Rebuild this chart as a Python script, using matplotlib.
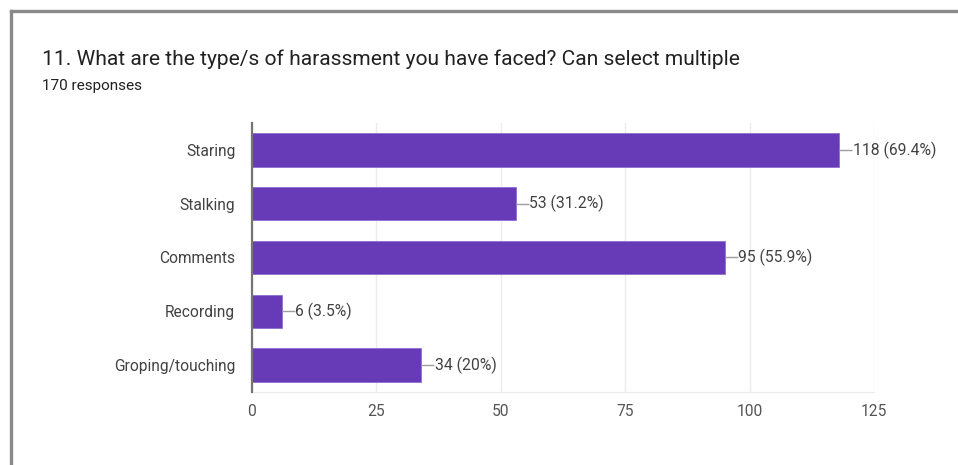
import matplotlib.pyplot as plt
from matplotlib.lines import Line2D

plt.rcParams['font.family'] = ['Roboto', 'DejaVu Sans']

categories = ['Staring', 'Stalking', 'Comments', 'Recording', 'Groping/touching']
counts = [118, 53, 95, 6, 34]
labels = ['118 (69.4%)', '53 (31.2%)', '95 (55.9%)', '6 (3.5%)', '34 (20%)']
xticks = [0, 25, 50, 75, 100, 125]

fig = plt.figure(figsize=(9.58, 4.65), dpi=100)
ax = fig.add_axes([0.263, 0.157, 0.6493, 0.5785])

ypos = list(range(len(categories)))
ax.barh(ypos, counts, height=0.62, color='#673ab7', edgecolor='#8e6fd0',
        linewidth=0.6, zorder=3)

# value labels with small leader lines
for y, v, lab in zip(ypos, counts, labels):
    ax.plot([v, v + 2.6], [y, y], color='#9e9e9e', lw=1, zorder=3,
            solid_capstyle='butt')
    ax.text(v + 2.7, y, lab, va='center', ha='left', fontsize=11.3,
            color='#424242')

ax.set_xlim(0, 125)
ax.set_ylim(4.5, -0.5)
ax.set_xticks(xticks)
ax.set_yticks(ypos)
ax.set_yticklabels(categories)
ax.tick_params(axis='y', length=0, pad=12, labelsize=11.2, labelcolor='#424242')
ax.tick_params(axis='x', length=0, pad=9, labelsize=11.2, labelcolor='#555555')

ax.grid(axis='x', color='#ebebeb', lw=1, zorder=0)
for s in ['top', 'right']:
    ax.spines[s].set_visible(False)
ax.spines['bottom'].set_color('#ebebeb')
ax.spines['left'].set_color('#757575')
ax.spines['left'].set_linewidth(1.6)
ax.spines['left'].set_zorder(4)

# title and subtitle
fig.text(42 / 958, 1 - 59 / 465, '11. What are the type/s of harassment you have faced? Can select multiple',
         fontsize=15.1, color='#212121', va='center', ha='left')
fig.text(42 / 958, 1 - 86 / 465, '170 responses', fontsize=11, color='#212121',
         va='center', ha='left')

# card border (top and left edges)
fig.add_artist(Line2D([11 / 958, 1], [1 - 11 / 465, 1 - 11 / 465],
                      transform=fig.transFigure, color='#8a8a8a', lw=2.4))
fig.add_artist(Line2D([11 / 958, 11 / 958], [0, 1 - 11 / 465],
                      transform=fig.transFigure, color='#8a8a8a', lw=2.4))

fig.savefig('out.png', dpi=100)
